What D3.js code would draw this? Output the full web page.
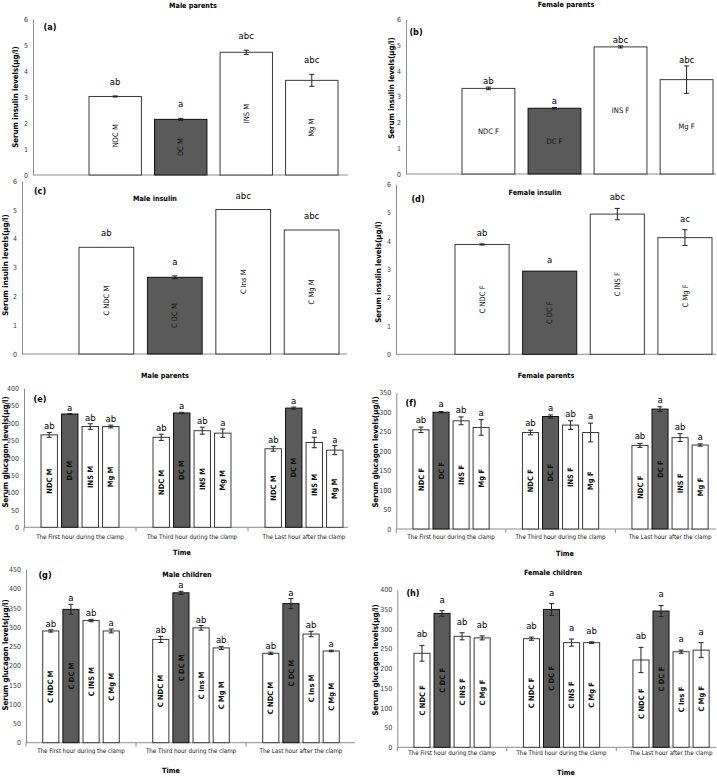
<!DOCTYPE html>
<html>
<head>
<meta charset="utf-8">
<script src="https://cdn.jsdelivr.net/npm/d3@7"></script>
<style>
  body { margin: 0; background: #fff; }
  svg { display: block; font-family: "Liberation Sans Narrow", "DejaVu Sans Condensed", "Liberation Sans", Arial, sans-serif; }
</style>
</head>
<body>
<svg id="chart" width="717" height="778"></svg>
<script>
// ---- insulin panels (a)-(d)
var insTicks = [0, 1, 2, 3, 4, 5, 6];

var insLabelsMP = ["NDC M", "DC M", "INS M", "Mg M"];
var insMP = [3.02, 2.14, 4.72, 3.64];
var insMPErr = [0.02, 0.04, 0.08, 0.23];
var insMPSig = ["ab", "a", "abc", "abc"];

var insLabelsFP = ["NDC F", "DC F", "INS F", "Mg F"];
var insFP = [3.32, 2.55, 4.93, 3.66];
var insFPErr = [0.05, 0.03, 0.04, 0.53];
var insFPSig = ["ab", "a", "abc", "abc"];

var insLabelsMC = ["C NDC M", "C DC M", "C Ins M", "C Mg M"];
var insMC = [3.70, 2.66, 5.01, 4.30];
var insMCErr = [0, 0.05, 0, 0];
var insMCSig = ["ab", "a", "abc", "abc"];

var insLabelsFC = ["C NDC F", "C DC F", "C INS F", "C Mg F"];
var insFC = [3.87, 2.93, 4.94, 4.11];
var insFCErr = [0.02, 0, 0.2, 0.28];
var insFCSig = ["ab", "a", "abc", "ac"];

// ---- glucagon panels (e)-(h), one row per time point
var timeLabels = ["The First hour during the clamp", "The Third hour during the clamp", "The Last hour after the clamp"];

var gluLabelsMP = [["NDC M", "DC M", "INS M", "Mg M"], ["NDC M", "DC M", "INS M", "Mg M"], ["NDC M", "DC M", "INS M", "Mg M"]];
var gluMP = [[266, 326, 290, 290], [259, 329, 278, 271], [226, 343, 244, 222]];
var gluMPErr = [[7, 1, 8, 4], [9, 2, 10, 12], [7, 3, 15, 13]];
var gluMPSig = [["ab", "a", "ab", "ab"], ["ab", "a", "ab", "a"], ["ab", "a", "a", "a"]];

var gluLabelsFP = [["NDC F", "DC F", "INS F", "Mg F"], ["NDC F", "DC F", "INS F", "Mg F"], ["NDC F", "DC F", "INS F", "Mg F"]];
var gluFP = [[254, 299, 277, 260], [247, 288, 266, 247], [214, 307, 234, 215]];
var gluFPErr = [[7, 2, 10, 20], [6, 4, 11, 24], [5, 6, 10, 3]];
var gluFPSig = [["ab", "a", "ab", "a"], ["ab", "a", "ab", "a"], ["ab", "a", "ab", "a"]];

var gluLabelsMC = [["C NDC M", "C DC M", "C INS M", "C Mg M"], ["C NDC M", "C DC M", "C Ins M", "C Mg M"], ["C NDC M", "C DC M", "C Ins M", "C Mg M"]];
var gluMC = [[290, 346, 317, 290], [268, 389, 298, 246], [232, 361, 282, 238]];
var gluMCErr = [[3, 13, 3, 5], [8, 4, 6, 4], [3, 13, 7, 2]];
var gluMCSig = [["ab", "a", "ab", "a"], ["ab", "a", "ab", "ab"], ["ab", "a", "ab", "a"]];

var gluLabelsFC = [["C NDC F", "C DC F", "C INS F", "C Mg F"], ["C NDC F", "C DC F", "C INS F", "C Mg F"], ["C NDC F", "C DC F", "C Ins F", "C Mg F"]];
var gluFC = [[238, 339, 281, 277], [275, 349, 265, 265], [221, 345, 242, 246]];
var gluFCErr = [[20, 7, 9, 5], [4, 15, 9, 2], [32, 14, 4, 19]];
var gluFCSig = [["ab", "a", "ab", "ab"], ["ab", "a", "a", "ab"], ["ab", "a", "a", "a"]];

var insTitle = "Serum insulin levels(µg/l)";
var gluTitle = "Serum glucagon levels(µg/l)";

var svg = d3.select('#chart');
var axisColor = '#8c8c8c', darkFill = '#5a5a5a', barStroke = '#3a3a3a';

function isDark(label) {
  return /(^|\s)DC/.test(label);
}

function yAxis(g, y, ticks, ax) {
  var a = g.append('g')
      .attr('transform', 'translate(' + ax + ',0)')
      .call(d3.axisLeft(y).tickValues(ticks).tickFormat(d3.format('d'))
        .tickSize(0).tickSizeOuter(0).tickPadding(5));
  a.attr('font-family', null);
  a.select('.domain').attr('stroke', axisColor);
  a.selectAll('text').attr('font-size', 7).attr('fill', '#3a3a3a');
}

function decorate(g, cfg, yTitle) {
  g.append('text')
      .attr('x', cfg.title[0]).attr('y', cfg.title[1]).attr('dy', '0.35em')
      .attr('text-anchor', 'middle').attr('font-weight', 'bold').attr('font-size', 7.2)
      .text(cfg.titleText);
  g.append('text')
      .attr('x', cfg.tag[0]).attr('y', cfg.tag[1]).attr('dy', '0.35em')
      .attr('text-anchor', 'middle').attr('font-weight', 'bold').attr('font-size', 9)
      .text(cfg.tagText);
  g.append('text')
      .attr('transform', 'translate(' + cfg.ytitle[0] + ',' + cfg.ytitle[1] + ') rotate(-90)')
      .attr('dy', '0.35em')
      .attr('text-anchor', 'middle').attr('font-weight', 'bold').attr('font-size', 7.8)
      .text(yTitle);
}

function errBars(g, cx, yTop, yBot) {
  g.append('line').attr('x1', cx).attr('x2', cx).attr('y1', yTop).attr('y2', yBot)
      .attr('stroke', '#222').attr('stroke-width', 1);
  [yTop, yBot].forEach(function (yy) {
    g.append('line').attr('x1', cx - 2.5).attr('x2', cx + 2.5).attr('y1', yy).attr('y2', yy)
        .attr('stroke', '#222').attr('stroke-width', 1);
  });
}

function insulinPanel(cfg, labels, vals, errs, sigs) {
  var g = svg.append('g');
  var y = d3.scaleLinear().domain([0, 6]).range([cfg.y0, cfg.yTop]);
  var x = d3.scaleBand().domain(labels).range([cfg.barL, cfg.barR]).paddingInner(0.2);

  yAxis(g, y, insTicks, cfg.ax);
  g.append('line').attr('x1', cfg.ax).attr('x2', cfg.xEnd).attr('y1', cfg.y0).attr('y2', cfg.y0)
      .attr('stroke', axisColor);

  labels.forEach(function (lab, i) {
    var x0 = x(lab), w = x.bandwidth(), cx = x0 + w / 2;
    g.append('rect')
        .attr('x', x0).attr('y', y(vals[i])).attr('width', w).attr('height', y(0) - y(vals[i]))
        .attr('fill', isDark(lab) ? darkFill : '#fff')
        .attr('stroke', isDark(lab) ? '#111' : barStroke).attr('stroke-width', 1);
    if (errs[i] > 0) errBars(g, cx, y(vals[i] + errs[i]), y(vals[i] - errs[i]));
    g.append('text')
        .attr('x', cx).attr('y', y(vals[i] + errs[i]) - cfg.gap)
        .attr('text-anchor', 'middle').attr('font-size', 9.5)
        .text(sigs[i]);
    var cy = (y(vals[i]) + y(0)) / 2;
    var t = g.append('text').attr('text-anchor', 'middle').attr('dy', '0.35em')
        .attr('font-size', 7.5).attr('fill', '#111').text(lab);
    if (cfg.rot) t.attr('transform', 'translate(' + cx + ',' + cy + ') rotate(-90)');
    else t.attr('x', cx).attr('y', cy);
  });
  decorate(g, cfg, insTitle);
}

function glucagonPanel(cfg, labels, vals, errs, sigs) {
  var g = svg.append('g');
  var y = d3.scaleLinear().domain([0, cfg.yMax]).range([cfg.y0, cfg.yTop]);
  var ticks = d3.range(0, cfg.yMax + 1, 50);
  var xg = d3.scaleBand().domain(timeLabels).range([cfg.ax, cfg.ax + 3 * cfg.gw]);
  var xb = d3.scaleBand().domain([0, 1, 2, 3]).range([0, cfg.gw]).paddingInner(0.2).paddingOuter(0.83);

  yAxis(g, y, ticks, cfg.ax);
  g.append('line').attr('x1', cfg.ax).attr('x2', cfg.xEnd).attr('y1', cfg.y0).attr('y2', cfg.y0)
      .attr('stroke', axisColor);
  var xa = g.append('g')
      .attr('transform', 'translate(0,' + cfg.y0 + ')')
      .call(d3.axisBottom(xg).tickSize(0).tickPadding(cfg.xlabPad));
  xa.attr('font-family', null);
  xa.select('.domain').remove();
  xa.selectAll('text').attr('font-size', 6.2).attr('fill', '#111');
  timeLabels.forEach(function (t) {
    var bx = xg(t);
    g.append('line').attr('x1', bx).attr('x2', bx).attr('y1', cfg.y0).attr('y2', cfg.y0 + 4)
        .attr('stroke', axisColor);
  });

  timeLabels.forEach(function (t, k) {
    vals[k].forEach(function (v, i) {
      var x0 = xg(t) + xb(i), w = xb.bandwidth(), cx = x0 + w / 2;
      var lab = labels[k][i], e = errs[k][i];
      g.append('rect')
          .attr('x', x0).attr('y', y(v)).attr('width', w).attr('height', y(0) - y(v))
          .attr('fill', isDark(lab) ? darkFill : '#fff')
          .attr('stroke', isDark(lab) ? '#111' : barStroke).attr('stroke-width', 1);
      errBars(g, cx, y(v + e), y(v - e));
      g.append('text')
          .attr('x', cx).attr('y', y(v + e) - cfg.gap)
          .attr('text-anchor', 'middle').attr('font-size', 9.5)
          .text(sigs[k][i]);
      var cy = (y(v) + y(0)) / 2;
      g.append('text')
          .attr('transform', 'translate(' + cx + ',' + cy + ') rotate(-90)')
          .attr('text-anchor', 'middle').attr('dy', '0.35em')
          .attr('font-size', 7.5).attr('font-weight', 'bold').attr('fill', '#111')
          .text(lab);
    });
  });

  g.append('text')
      .attr('x', cfg.time[0]).attr('y', cfg.time[1]).attr('dy', '0.35em')
      .attr('text-anchor', 'middle').attr('font-weight', 'bold').attr('font-size', 7.2)
      .text('Time');
  decorate(g, cfg, gluTitle);
}

insulinPanel({ ax: 33, y0: 175, yTop: 19, xEnd: 348, barL: 89, barR: 338, rot: true, gap: 11,
  title: [193, 5], titleText: 'Male parents', tag: [50, 27], tagText: '(a)', ytitle: [15, 97] },
  insLabelsMP, insMP, insMPErr, insMPSig);
insulinPanel({ ax: 406, y0: 174, yTop: 19.3, xEnd: 716, barL: 462, barR: 713, rot: false, gap: 3,
  title: [566, 4], titleText: 'Female parents', tag: [416, 32], tagText: '(b)', ytitle: [391, 88] },
  insLabelsFP, insFP, insFPErr, insFPSig);
insulinPanel({ ax: 22, y0: 354, yTop: 181, xEnd: 347, barL: 79, barR: 339, rot: true, gap: 11,
  title: [155, 198], titleText: 'Male insulin', tag: [40, 191], tagText: '(c)', ytitle: [5, 265] },
  insLabelsMC, insMC, insMCErr, insMCSig);
insulinPanel({ ax: 396, y0: 354.3, yTop: 184, xEnd: 716, barL: 455, barR: 712, rot: true, gap: 8,
  title: [535, 192], titleText: 'Female insulin', tag: [418, 199], tagText: '(d)', ytitle: [378, 272] },
  insLabelsFC, insFC, insFCErr, insFCSig);

glucagonPanel({ ax: 24, y0: 527.3, yMax: 400, yTop: 388.3, gw: 112, xEnd: 348, xlabPad: 7, gap: 3,
  time: [182, 552], title: [165, 375], titleText: 'Male parents', tag: [40, 399], tagText: '(e)', ytitle: [5, 452] },
  gluLabelsMP, gluMP, gluMPErr, gluMPSig);
glucagonPanel({ ax: 396.3, y0: 529, yMax: 350, yTop: 392.3, gw: 109.5, xEnd: 716, xlabPad: 6, gap: 4,
  time: [565, 553], title: [546, 375], titleText: 'Female parents', tag: [411, 403], tagText: '(f)', ytitle: [375, 452] },
  gluLabelsFP, gluFP, gluFPErr, gluFPSig);
glucagonPanel({ ax: 26, y0: 742.7, yMax: 450, yTop: 569.3, gw: 110, xEnd: 355, xlabPad: 6, gap: 3,
  time: [171, 770], title: [187, 574], titleText: 'Male children', tag: [45, 575], tagText: '(g)', ytitle: [5, 655] },
  gluLabelsMC, gluMC, gluMCErr, gluMCSig);
glucagonPanel({ ax: 397.3, y0: 747.3, yMax: 400, yTop: 589.3, gw: 109.5, xEnd: 716, xlabPad: 3, gap: 8,
  time: [566, 772], title: [553, 572], titleText: 'Female children', tag: [413, 593], tagText: '(h)', ytitle: [375, 660] },
  gluLabelsFC, gluFC, gluFCErr, gluFCSig);
</script>
</body>
</html>
